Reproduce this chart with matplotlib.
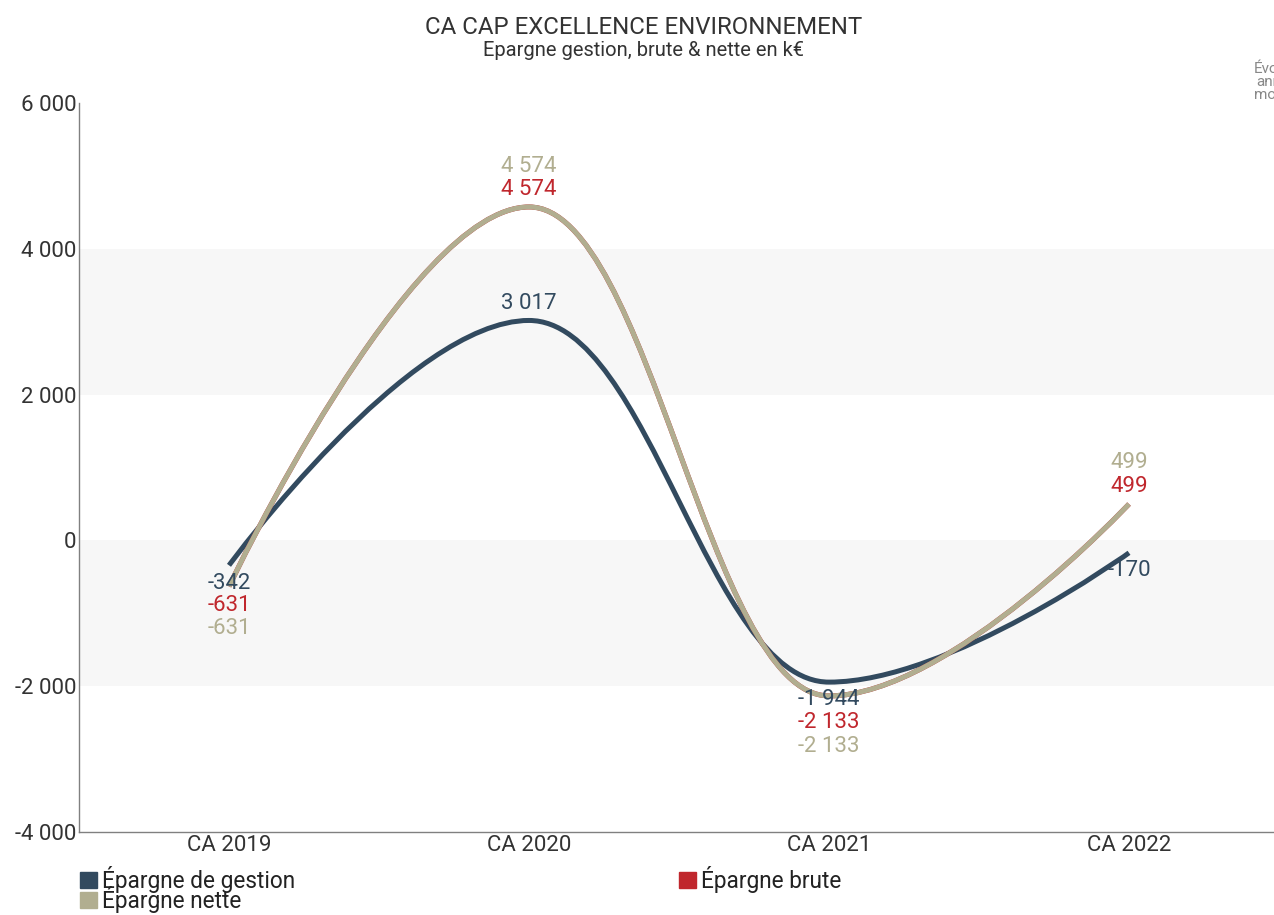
import numpy as np
import matplotlib
matplotlib.use("Agg")
import matplotlib.pyplot as plt
from matplotlib.path import Path
from matplotlib.patches import PathPatch, Patch
from matplotlib import font_manager

# --- data ---
categories = ["CA 2019", "CA 2020", "CA 2021", "CA 2022"]
epargne_gestion = [-342, 3017, -1944, -170]
epargne_brute = [-631, 4574, -2133, 499]
epargne_nette = [-631, 4574, -2133, 499]
series_names = ["Épargne de gestion", "Épargne brute", "Épargne nette"]

colors = ["#324a5f", "#c0272d", "#b1ae90"]
# label offsets in pixels (vertical) for each series / point
label_dy = [
    [-18, 17, -17, -18],
    [-19, 17, -27, 18],
    [-42, 40, -51, 42],
]

names = [f.name for f in font_manager.fontManager.ttflist]
fam = "Liberation Sans Narrow" if "Liberation Sans Narrow" in names else "Roboto"
plt.rcParams["font.family"] = [fam, "DejaVu Sans"]


def fmt(v):
    return f"{v:,}".replace(",", " ")


def spline_path(xs, ys, smoothing=1.5):
    # highcharts-like spline: bezier control points around each point
    n = len(xs)
    lc = [(xs[i], ys[i]) for i in range(n)]
    rc = [(xs[i], ys[i]) for i in range(n)]
    for i in range(1, n - 1):
        px, py = xs[i], ys[i]
        lx, ly = xs[i - 1], ys[i - 1]
        nx, ny = xs[i + 1], ys[i + 1]
        d = smoothing + 1
        lcx, lcy = (smoothing * px + lx) / d, (smoothing * py + ly) / d
        rcx, rcy = (smoothing * px + nx) / d, (smoothing * py + ny) / d
        corr = (rcy - lcy) * (rcx - px) / (rcx - lcx) + py - rcy
        lcy += corr
        rcy += corr
        if lcy > ly and lcy > py:
            lcy = max(ly, py); rcy = 2 * py - lcy
        elif lcy < ly and lcy < py:
            lcy = min(ly, py); rcy = 2 * py - lcy
        if rcy > ny and rcy > py:
            rcy = max(ny, py); lcy = 2 * py - rcy
        elif rcy < ny and rcy < py:
            rcy = min(ny, py); lcy = 2 * py - rcy
        lc[i] = (lcx, lcy)
        rc[i] = (rcx, rcy)
    verts = [(xs[0], ys[0])]
    codes = [Path.MOVETO]
    for i in range(1, n):
        verts += [rc[i - 1], lc[i], (xs[i], ys[i])]
        codes += [Path.CURVE4] * 3
    return Path(verts, codes)


fig = plt.figure(figsize=(12.74, 9.15), dpi=100)
ax = fig.add_axes([79 / 1274, 1 - 832 / 915, 1200 / 1274, 729 / 915])

x = np.arange(len(categories))
ax.set_xlim(-0.5, 3.5)
ax.set_ylim(-4000, 6000)

# alternating bands
for lo, hi in [(2000, 4000), (-2000, 0)]:
    ax.axhspan(lo, hi, color="#f7f7f7", zorder=0, lw=0)

all_series = [epargne_gestion, epargne_brute, epargne_nette]
for i in range(3):
    vals = all_series[i]
    p = spline_path(list(x.astype(float)), list(map(float, vals)))
    ax.add_patch(PathPatch(p, facecolor="none", edgecolor=colors[i], lw=3.6,
                           capstyle="butt", zorder=2 + i))
    for j, v in enumerate(vals):
        ax.annotate(fmt(v), (x[j], v), xytext=(0, label_dy[i][j] * 0.72),
                    textcoords="offset points", ha="center", va="center",
                    fontsize=16, color=colors[i], zorder=10)

yt = [-4000, -2000, 0, 2000, 4000, 6000]
ax.set_yticks(yt)
ax.set_yticklabels([fmt(v) for v in yt])
ax.set_xticks(x)
ax.set_xticklabels(categories)
ax.tick_params(axis="y", length=0, pad=2, labelsize=16, labelcolor="#333333")
ax.tick_params(axis="x", length=0, pad=2, labelsize=16, labelcolor="#333333")
for s in ["top", "right"]:
    ax.spines[s].set_visible(False)
for s in ["left", "bottom"]:
    ax.spines[s].set_color("#808080")
    ax.spines[s].set_linewidth(1)

fig.text(0.505, 1 - 28 / 915, "CA CAP EXCELLENCE ENVIRONNEMENT", ha="center", va="center",
         fontsize=17.3, color="#333333")
fig.text(0.505, 1 - 50 / 915, "Epargne gestion, brute & nette en k€", ha="center", va="center",
         fontsize=14.5, color="#333333")
# partially visible note at the right edge (cut in the original too)
fig.text(1285 / 1274, 1 - 82 / 915, "Évolution\nannuelle\nmoyenne", ha="center", va="center",
         fontsize=11, color="#888888", linespacing=0.9)

handles = [Patch(color=colors[0], label=series_names[0]),
           Patch(color=colors[2], label=series_names[2]),
           Patch(color=colors[1], label=series_names[1])]
fig.legend(handles=handles, ncol=2, loc="upper left", bbox_to_anchor=(80 / 1274, 1 - 866 / 915),
           frameon=False, fontsize=16.3, handlelength=0.75, handleheight=0.75, handletextpad=0.2,
           labelspacing=-0.32, columnspacing=17.0, borderpad=0, borderaxespad=0,
           labelcolor="#222222")

fig.savefig("out.png", dpi=100)
